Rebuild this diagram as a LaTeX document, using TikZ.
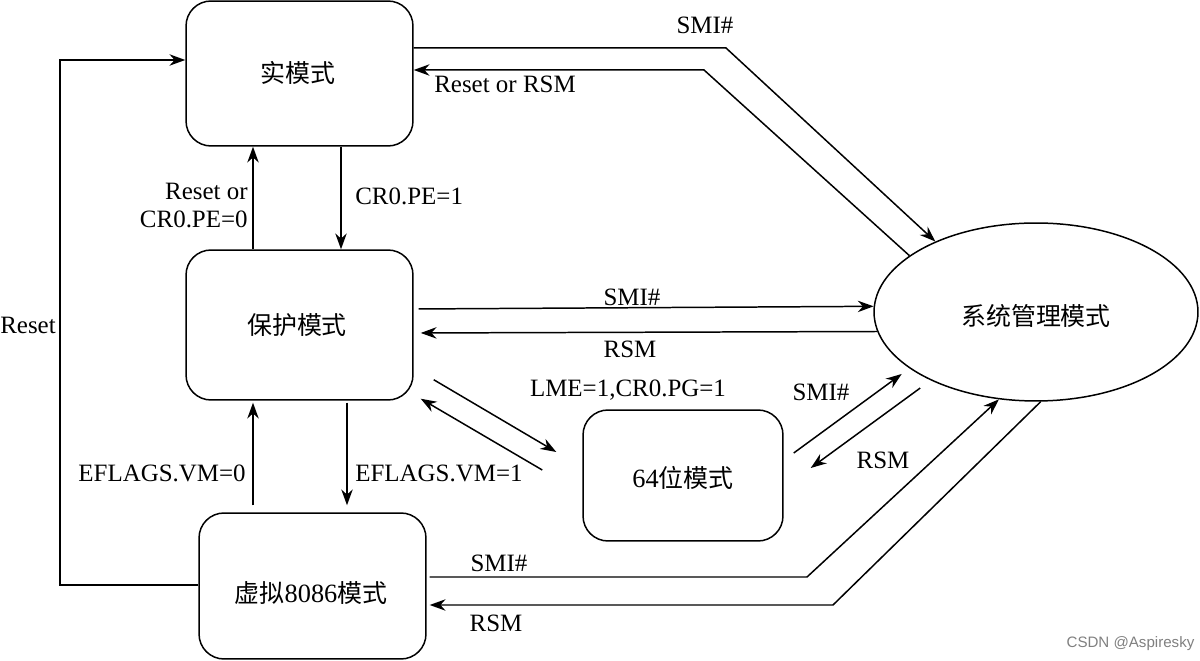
\documentclass[tikz,border=0pt]{standalone}
\usepackage{fontspec}
\setmainfont{Liberation Serif}
\newfontfamily\cjk{Noto Sans CJK SC}
\newfontfamily\wmfont{Liberation Sans}
\usetikzlibrary{shapes.geometric,arrows.meta,calc}
\begin{document}
\begin{tikzpicture}[x=0.02cm,y=-0.02cm,
  every node/.style={font=\fontsize{14.2}{17}\selectfont},
  modebox/.style={draw, line width=0.85pt, rounded corners=0.5cm, inner sep=0pt},
  conn/.style={line width=0.85pt, -{Stealth[length=9pt,width=6.5pt]}},
  lbl/.style={inner sep=0pt},
  cjklbl/.style={inner sep=0pt, font=\cjk\fontsize{14.2}{17}\selectfont}]
\path[use as bounding box, fill=white] (0,0) rectangle (1200,661);

% nodes
\node[modebox, minimum width=4.54cm, minimum height=2.9cm] (real) at (299.5,73.5) {};
\node[cjklbl] (realt) at (298,73) {实模式};
\node[modebox, minimum width=4.54cm, minimum height=3.0cm] (prot) at (299.5,325) {};
\node[cjklbl] (prott) at (297,325) {保护模式};
\node[modebox, minimum width=4.54cm, minimum height=2.92cm] (v86) at (312.5,586) {};
\node[cjklbl] (v86t) at (311,593) {虚拟{\rmfamily\fontsize{15}{17}\selectfont 8086}模式};
\node[modebox, minimum width=4.0cm, minimum height=2.62cm] (lm) at (683,475.5) {};
\node[cjklbl] (lmt) at (683,478) {{\rmfamily\fontsize{15}{17}\selectfont 64}位模式};
\node[draw, ellipse, line width=0.85pt, inner sep=0pt, minimum width=6.48cm, minimum height=3.56cm] (smm) at (1036,312) {};
\node[cjklbl] (smmt) at (1036,316) {系统管理模式};

% bend points
\coordinate (b1) at (726,48);
\coordinate (b2) at (704,70);
\coordinate (b3) at (807,577);
\coordinate (b4) at (833,605);
\coordinate (b5) at (60,585);
\coordinate (b6) at (60,60);

% real <-> smm
\draw[conn] (real.east |- b1) -- (b1) -- (smm.145);
\draw[conn] (smm.156.9) -- (b2) -- (real.east |- b2);
% reset
\draw[conn] (v86.west |- b5) -- (b5) -- (b6) -- (real.west |- b6);
% real <-> prot
\draw[conn] (real.south -| 341,0) -- (prot.north -| 341,0);
\draw[conn] (prot.north -| 253,0) -- (real.south -| 253,0);
% prot <-> v86
\draw[conn, shorten <=0.04cm, shorten >=0.14cm] (prot.south -| 347,0) -- (v86.north -| 347,0);
\draw[conn, shorten <=0.14cm, shorten >=0.04cm] (v86.north -| 253,0) -- (prot.south -| 253,0);
% prot <-> smm
\draw[conn, shorten <=0.1cm] (prot.east |- 0,309) -- (smm.178.9);
\draw[conn, shorten >=0.14cm] (smm.187.6) -- (prot.east |- 0,333);
% prot <-> 64
\draw[conn] ($(prot.south east)+(20,-21)$) -- ($(lm.west)+(-26,-23.5)$);
\draw[conn] ($(lm.west)+(-40,-5.5)$) -- ($(prot.south east)+(7,-2)$);
% 64 <-> smm
\draw[conn, shorten >=0.19cm] ($(lm.east)+(10,-22.5)$) -- (smm.204.3);
\draw[conn, shorten <=0.26cm] (smm.213.2) -- ($(lm.east)+(27,-7.5)$);
% v86 <-> smm
\draw[conn, shorten <=0.06cm] (v86.east |- b3) -- (b3) -- (smm.247.5);
\draw[conn, shorten >=0.06cm] (smm.273.8) -- (b4) -- (v86.east |- b4);

% labels
\node[lbl] (l1) at (705,25) {SMI\#};
\node[lbl] (l2) at (505,84) {Reset or RSM};
\node[lbl, anchor=west] (l3) at (355,196) {CR0.PE=1};
\node[lbl, anchor=east, align=right] (l4) at (248,205.5) {Reset or\\[-1pt]CR0.PE=0};
\node[lbl] (l5) at (28,325) {Reset};
\node[lbl] (l6) at (632,297) {SMI\#};
\node[lbl] (l7) at (630,349) {RSM};
\node[lbl] (l8) at (628,390) {LME=1,CR0.PG=1};
\node[lbl] (l9) at (821,392) {SMI\#};
\node[lbl] (l10) at (883,460) {RSM};
\node[lbl, anchor=east] (l11) at (246,473) {EFLAGS.VM=0};
\node[lbl, anchor=west] (l12) at (355,473) {EFLAGS.VM=1};
\node[lbl] (l13) at (499,563) {SMI\#};
\node[lbl] (l14) at (496,623) {RSM};
\node[lbl, text=gray, font=\wmfont\fontsize{8.6}{10}\selectfont] (wm) at (1130.5,644) {CSDN @Aspiresky};
\end{tikzpicture}
\end{document}
